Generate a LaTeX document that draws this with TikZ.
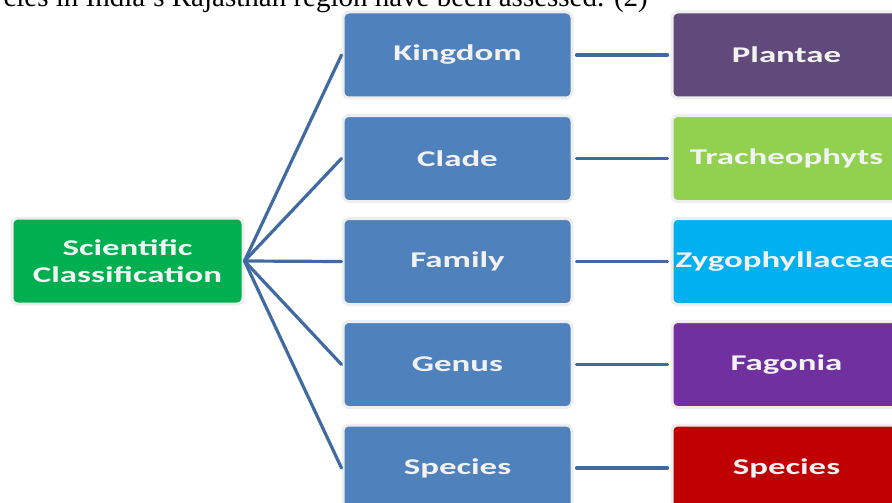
\documentclass[tikz,border=0pt]{standalone}
\usepackage{fontspec}
\setmainfont{Liberation Serif}
\newfontfamily\boxfont{Carlito}
\usepackage{tikz}
\definecolor{midblue}{RGB}{79, 129, 189}
\definecolor{linkblue}{RGB}{65, 106, 160}
\definecolor{sciGreen}{RGB}{0, 176, 80}
\definecolor{plum}{RGB}{96, 74, 123}
\definecolor{lime}{RGB}{146, 208, 80}
\definecolor{sky}{RGB}{0, 176, 240}
\definecolor{violet}{RGB}{112, 48, 160}
\definecolor{crimson}{RGB}{192, 0, 0}
\definecolor{halo}{RGB}{238, 238, 238}
\def\boxw{229pt}
\def\boxh{86pt}
\def\wide#1{\scalebox{1.55}[1]{#1}}

\begin{document}
\begin{tikzpicture}[x=1pt, y=-1pt, line cap=round,
    tile/.style={draw=halo, line width=3pt, rounded corners=6pt,
        minimum width=\boxw, minimum height=\boxh, inner sep=0pt,
        text=white!95!black, align=center,
        font=\boxfont\bfseries\fontsize{22.5}{27}\selectfont},
    link/.style={draw=linkblue, line width=3.2pt}]

                 \useasboundingbox (0, 0) rectangle (892, 503);
                 \clip (0, 0) rectangle (892, 503);

                 \node[anchor=base east, inner sep=0pt,
                       font=\fontsize{29}{34}\selectfont] (note) at (648, 7)
                       {cies in India's Rajasthan region have been assessed. (2)};

                 \node[tile, fill=sciGreen, minimum width=231pt] (sci) at (127.5, 261)
                       {\wide{Scientific}\\\wide{Classification}};

                 \node[tile, fill=midblue] (kingdom) at (457.5, 55) {\wide{Kingdom}};
                 \node[tile, fill=midblue] (clade) at (457.5, 158.5) {\wide{Clade}};
                 \node[tile, fill=midblue] (family) at (457.5, 261.5) {\wide{Family}};
                 \node[tile, fill=midblue] (genus) at (457.5, 364.5) {\wide{Genus}};
                 \node[tile, fill=midblue] (species) at (457.5, 468) {\wide{Species}};

                 \node[tile, fill=plum] (plantae) at (786.5, 55) {\wide{Plantae}};
                 \node[tile, fill=lime] (trach) at (786.5, 158.5) {\wide{Tracheophyts}};
                 \node[tile, fill=sky] (zygo) at (786.5, 261.5) {\wide{Zygophyllaceae}};
                 \node[tile, fill=violet] (fagonia) at (786.5, 364.5) {\wide{Fagonia}};
                 \node[tile, fill=crimson] (spec) at (786.5, 468) {\wide{Species}};

                 \draw[link] (sci.east) -- (kingdom.west);
                 \draw[link] (sci.east) -- (clade.west);
                 \draw[link] (sci.east) -- (family.west);
                 \draw[link] (sci.east) -- (genus.west);
                 \draw[link] (sci.east) -- (species.west);

                 \draw[link] ([xshift=3pt]kingdom.east) -- ([xshift=-3pt]plantae.west);
                 \draw[link] ([xshift=3pt]clade.east) -- ([xshift=-3pt]trach.west);
                 \draw[link] ([xshift=3pt]family.east) -- ([xshift=-3pt]zygo.west);
                 \draw[link] ([xshift=3pt]genus.east) -- ([xshift=-3pt]fagonia.west);
                 \draw[link] ([xshift=3pt]species.east) -- ([xshift=-3pt]spec.west);

\end{tikzpicture}
\end{document}
